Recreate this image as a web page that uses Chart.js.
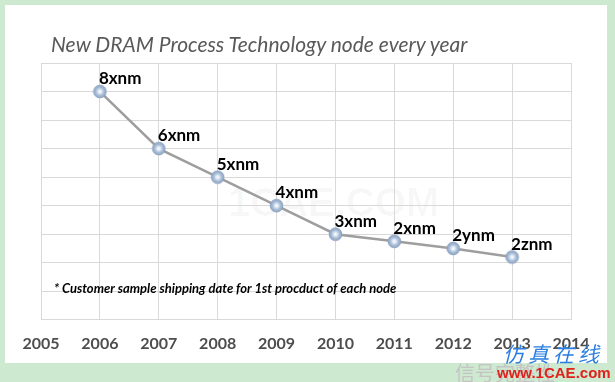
<!DOCTYPE html>
<html>
<head>
<meta charset="utf-8">
<script src="https://cdn.jsdelivr.net/npm/chart.js@4.4.1/dist/chart.umd.min.js"></script>
<style>
  html, body { margin: 0; padding: 0; }
  body { width: 615px; height: 382px; background: #cde9cf; position: relative; overflow: hidden; }
  #panel { position: absolute; left: 5px; top: 5px; width: 602px; height: 358px; background: #ffffff; }
  #wrap { position: absolute; left: 0; top: 0; width: 615px; height: 382px; }
  #title { position: absolute; left: 51px; top: 30px; font-family: Lato, "Open Sans", sans-serif; font-style: italic; font-weight: 400; font-size: 21px; color: #595959; white-space: nowrap; line-height: 28px; }
  .wm1 { position: absolute; left: 503px; top: 339px; font-family: "Noto Sans CJK SC", sans-serif; font-size: 21px; letter-spacing: 4px; color: #2a7fe0; font-style: italic; white-space: nowrap; line-height: 28px; }
  .wm2 { position: absolute; left: 455px; top: 360px; font-family: "Noto Sans CJK SC", sans-serif; font-size: 20px; color: #c4c4c4; white-space: nowrap; line-height: 26px; }
  .wm3 { position: absolute; left: 497px; top: 364px; font-family: "Liberation Sans", Arial, sans-serif; font-weight: bold; font-size: 15px; color: #e0221c; white-space: nowrap; line-height: 18px; }
  .wm4 { position: absolute; left: 228px; top: 180px; font-family: "Liberation Sans", Arial, sans-serif; font-weight: bold; font-size: 40px; color: rgba(0,0,0,0.03); white-space: nowrap; }
</style>
</head>
<body>
<div id="panel"></div>
<div class="wm4">1CAE.COM</div>
<div id="wrap"><canvas id="c" width="615" height="382"></canvas></div>
<div id="title">New DRAM Process Technology node every year</div>
<div class="wm2">信号完整性</div>
<div class="wm1">仿真在线</div>
<div class="wm3">www.1CAE.com</div>
<script>
// ---- data ----
const years = [2006, 2007, 2008, 2009, 2010, 2011, 2012, 2013];
const nodeLevels = [8, 6, 5, 4, 3, 2.75, 2.5, 2.2];
const nodeNames = ["8xnm", "6xnm", "5xnm", "4xnm", "3xnm", "2xnm", "2ynm", "2znm"];
const axisYears = [2005, 2014];
const footnote = "* Customer sample shipping date for 1st procduct of each node";

// point marker image
function makeMarker() {
  const c = document.createElement('canvas');
  c.width = 15; c.height = 15;
  const g = c.getContext('2d');
  const grd = g.createRadialGradient(7.5, 7.5, 0, 7.5, 7.5, 6.5);
  grd.addColorStop(0, '#ffffff');
  grd.addColorStop(0.3, '#dce7f3');
  grd.addColorStop(0.6, '#a9bdd6');
  grd.addColorStop(1, '#8ea6c6');
  g.beginPath();
  g.arc(7.5, 7.5, 6.3, 0, Math.PI * 2);
  g.fillStyle = grd;
  g.fill();
  g.lineWidth = 1;
  g.strokeStyle = '#8aa1c0';
  g.stroke();
  return c;
}
const marker = makeMarker();

const labelPlugin = {
  id: 'nodeLabels',
  afterDatasetsDraw(chart) {
    const ctx = chart.ctx;
    const meta = chart.getDatasetMeta(0);
    ctx.save();
    ctx.font = 'bold 17px Lato, "Open Sans", sans-serif';
    ctx.fillStyle = '#000000';
    ctx.textAlign = 'left';
    ctx.textBaseline = 'middle';
    meta.data.forEach((p, i) => {
      ctx.fillText(nodeNames[i], p.x - 1, p.y - 13);
    });
    const a = chart.chartArea;
    ctx.font = 'italic bold 13px Lato, "Open Sans", sans-serif';
    ctx.fillText(footnote, a.left + 13, a.bottom - 31);
    ctx.restore();
  }
};

new Chart(document.getElementById('c'), {
  type: 'line',
  data: {
    datasets: [{
      data: years.map((y, i) => ({ x: y, y: nodeLevels[i] })),
      borderColor: '#9e9e9e',
      borderWidth: 2.5,
      pointStyle: marker,
      pointRadius: 7,
      tension: 0,
      fill: false
    }]
  },
  options: {
    responsive: false,
    animation: false,
    events: [],
    layout: { padding: { left: 41, right: 44, top: 63, bottom: 15 } },
    plugins: { legend: { display: false }, tooltip: { enabled: false }, title: { display: false } },
    scales: {
      x: {
        type: 'linear',
        min: axisYears[0],
        max: axisYears[1],
        ticks: {
          stepSize: 1,
          padding: 14,
          color: '#4d4d4d',
          font: { family: 'Lato, "Open Sans", sans-serif', size: 16, weight: 'bold' },
          callback: v => String(v)
        },
        grid: { color: '#d9d9d9', lineWidth: 1, drawTicks: false },
        border: { color: '#d9d9d9' }
      },
      y: {
        min: 0,
        max: 9,
        ticks: { stepSize: 1, display: false },
        grid: { color: '#d9d9d9', lineWidth: 1, drawTicks: false },
        border: { color: '#d9d9d9' }
      }
    }
  },
  plugins: [labelPlugin]
});
</script>
</body>
</html>
